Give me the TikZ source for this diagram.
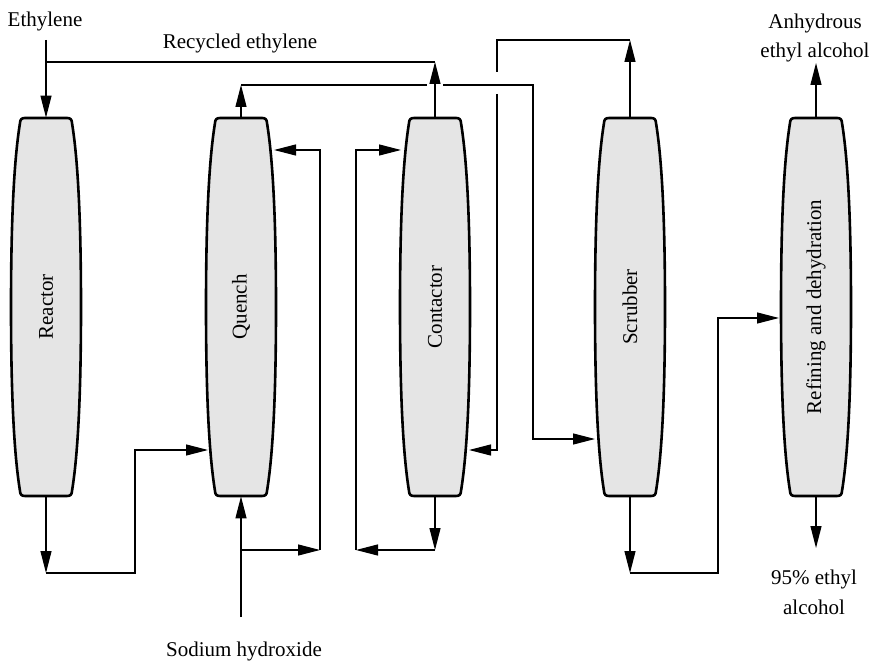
\documentclass[tikz,border=0pt]{standalone}
\usepackage{fontspec}
\setmainfont{Liberation Serif}
\usetikzlibrary{arrows.meta}
\tikzset{
  vessel/.style={draw, line width=1.3pt, fill=black!10},
  lbl/.style={font=\fontsize{10.5}{13}\selectfont},
  conn/.style={line width=0.6pt},
  arr/.style={conn, -{Triangle[length=11pt,width=5.5pt]}},
  unitbox/.style={minimum width=35pt, minimum height=189pt, inner sep=0pt}
}
\newcommand\drawvessel[3]{%
  \draw[vessel, shift={(#2,0)}] (-21,118) -- (21,118)
    .. controls (24.5,118) and (25.8,119.5) .. (26,123)
    .. controls (32,160) and (35,220) .. (35,307)
    .. controls (35,394) and (32,454) .. (26,491)
    .. controls (25.8,494.5) and (24.5,496) .. (21,496)
    -- (-21,496)
    .. controls (-24.5,496) and (-25.8,494.5) .. (-26,491)
    .. controls (-32,454) and (-35,394) .. (-35,307)
    .. controls (-35,220) and (-32,160) .. (-26,123)
    .. controls (-25.8,119.5) and (-24.5,118) .. (-21,118) -- cycle;
  \node[unitbox, lbl] (#1) at (#2,307) {\rotatebox{90}{#3}};
}
\begin{document}
\begin{tikzpicture}[x=0.5pt, y=-0.5pt]
\useasboundingbox (0,0) rectangle (872,662);

% vessels
\drawvessel{R}{46}{Reactor}
\drawvessel{Q}{241}{Quench}
\drawvessel{C}{435}{Contactor}
\drawvessel{S}{630}{Scrubber}
\drawvessel{F}{816}{Refining and dehydration}

% texts
\node[lbl, anchor=base] (teth) at (45,26.5) {Ethylene};
\node[lbl, anchor=base] (trec) at (240,49) {Recycled ethylene};
\node[lbl, align=center] (tanh) at (815,37.5) {Anhydrous\\[1.5pt]ethyl alcohol};
\node[lbl, align=center] (t95) at (814,592) {95\% ethyl\\[2pt]alcohol};
\node[lbl, anchor=base] (tnaoh) at (244,656) {Sodium hydroxide};

% coordinates
\coordinate (eth) at (46,40);
\coordinate (rc) at (435,62);
\coordinate (rcl) at (46,62);
\coordinate (q1) at (241,85);
\coordinate (gapL) at (427,85);
\coordinate (gapR) at (443,85);
\coordinate (s1) at (533,85);
\coordinate (s2) at (533,439);
\coordinate (Sin) at (595,439);
\coordinate (s3) at (630,40);
\coordinate (v1) at (497,40);
\coordinate (vgapT) at (497,72);
\coordinate (vgapB) at (497,94);
\coordinate (v2) at (497,450);
\coordinate (Cout) at (469,450);
\coordinate (naoh) at (241,617);
\coordinate (qb) at (241,550);
\coordinate (qr2) at (320,550);
\coordinate (qr1) at (320,150);
\coordinate (Qr) at (274,150);
\coordinate (cb) at (435,550);
\coordinate (cl2) at (356,550);
\coordinate (cl1) at (356,150);
\coordinate (Cl) at (401,150);
\coordinate (rb) at (46,573);
\coordinate (r2) at (135,573);
\coordinate (r3) at (135,450);
\coordinate (Ql) at (208,450);
\coordinate (sb) at (630,573);
\coordinate (f2) at (718,573);
\coordinate (f3) at (718,318);
\coordinate (Fl) at (779,318);
\coordinate (ft) at (816,63);
\coordinate (fb) at (816,548);

% connectors
\draw[arr] (eth) -- (R.north);
\draw[arr] (C.north) -- (rc);
\draw[conn] (rc) -- (rcl);
\draw[arr] (Q.north) -- (q1);
\draw[arr] (q1) -- (gapL) (gapR) -- (s1) -- (s2) -- (Sin);
\draw[arr] (S.north) -- (s3);
\draw[arr] (s3) -- (v1) -- (vgapT) (vgapB) -- (v2) -- (Cout);
\draw[arr] (naoh) -- (Q.south);
\draw[arr] (qb) -- (qr2);
\draw[arr] (qr2) -- (qr1) -- (Qr);
\draw[arr] (C.south) -- (cb);
\draw[arr] (cb) -- (cl2);
\draw[arr] (cl2) -- (cl1) -- (Cl);
\draw[arr] (R.south) -- (rb);
\draw[arr] (rb) -- (r2) -- (r3) -- (Ql);
\draw[arr] (S.south) -- (sb);
\draw[arr] (sb) -- (f2) -- (f3) -- (Fl);
\draw[arr] (F.north) -- (ft);
\draw[arr] (F.south) -- (fb);
\end{tikzpicture}
\end{document}
